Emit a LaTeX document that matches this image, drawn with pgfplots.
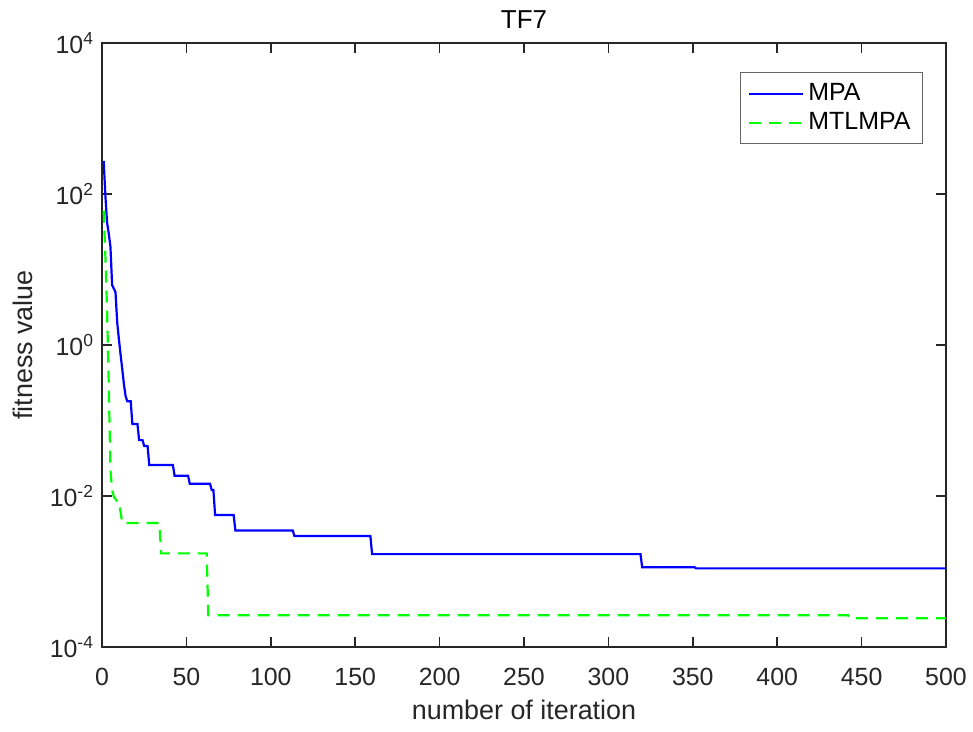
\documentclass[border=0pt]{standalone}
\usepackage{pgfplots}
\pgfplotsset{compat=1.18}
\usepackage{fontspec}
\setmainfont{Liberation Sans}
\definecolor{axgray}{RGB}{38,38,38}
\begin{document}
\begin{tikzpicture}[x=1bp,y=1bp]
\path[use as bounding box] (-51,-42) rectangle (435.5,323.5);
\begin{axis}[
  at={(0,0)}, anchor=south west,
  scale only axis, width=422bp, height=302bp,
  xmin=0, xmax=500, ymode=log, ymin=1e-4, ymax=1e4,
  xtick={0,50,...,500},
  ytick={1e-4,1e-2,1,1e2,1e4},
  yticklabels={10\textsuperscript{-4},10\textsuperscript{-2},10\textsuperscript{0},10\textsuperscript{2},10\textsuperscript{4}},
  minor ytick={}, yminorticks=false,
  tick align=inside, tickpos=both,
  major tick length=5bp,
  axis line style={axgray, line width=0.8bp},
  every tick/.style={axgray, line width=0.8bp},
  tick label style={font=\fontsize{12.5}{14}\selectfont, text=axgray},
  /pgf/number format/assume math mode=true,
  xticklabel style={yshift=-7bp},
  yticklabel style={xshift=-0.5bp},
  title={TF7},
  title style={font=\fontsize{13}{15}\selectfont, text=black, at={(axis description cs:0.5,1.019)}, anchor=center, yshift=0pt},
  xlabel={number of iteration}, ylabel={fitness value},
  label style={font=\fontsize{13.5}{15}\selectfont, text=axgray},
  xlabel style={at={(axis description cs:0.5,-0.104)}, anchor=center},
  ylabel style={at={(axis description cs:-0.0936,0.5)}, anchor=center, rotate=0},
  legend style={at={(axis description cs:0.9727,0.952)}, anchor=north east, draw=gray!80!black, line width=0.6bp,
     font=\fontsize{12.5}{14}\selectfont, inner xsep=4bp, inner ysep=3.5bp, row sep=0.5bp},
  legend cell align=left,
  legend image code/.code={\draw[#1] (0bp,0bp) -- (27bp,0bp);},
]
\addplot[blue, line width=1.1bp] coordinates {
(1,275) (2,95) (3,42) (4,30) (5,20) (6,6.2) (7,5.6) (8,5) (9,2) (10,1.2) (11,0.75) (12,0.48) (13,0.3) (14,0.21) (15,0.18) (17,0.18) (18,0.09) (21,0.09) (22,0.055) (24,0.055) (25,0.046) (27,0.046) (28,0.0257) (42,0.0257) (43,0.0186) (51,0.0186) (52,0.0145) (64,0.0145) (65,0.012) (66,0.012) (67,0.0056) (78,0.0056) (79,0.0035) (113,0.0035) (114,0.00295) (159,0.00295) (160,0.0017) (319,0.0017) (320,0.00114) (351,0.00114) (352,0.0011) (500,0.0011)
};
\addlegendentry{MPA}
\addplot[green, line width=1.1bp, dash pattern=on 6bp off 4bp] coordinates {
(1,60) (2,15) (3,3) (4,0.3) (5,0.022) (6,0.012) (7,0.0098) (9,0.0085) (10,0.0085) (12,0.0044) (34,0.0044) (35,0.00174) (62,0.00174) (63,0.000263) (442,0.000263) (443,0.00024) (500,0.00024)
};
\addlegendentry{MTLMPA}
\end{axis}
\end{tikzpicture}
\end{document}
